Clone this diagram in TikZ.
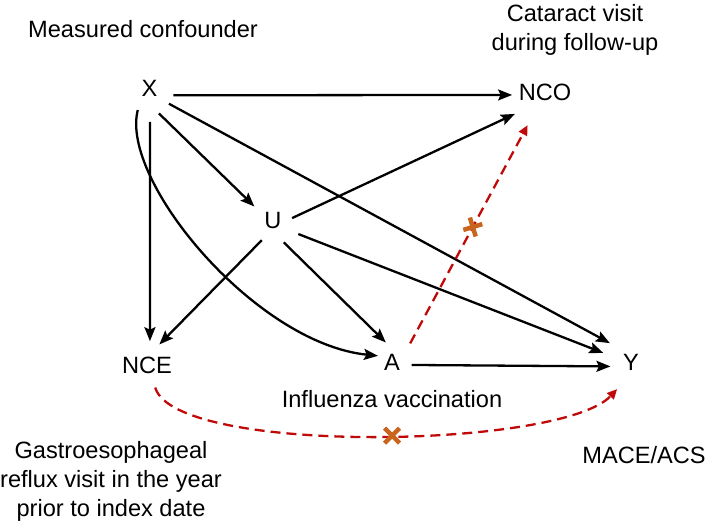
\documentclass[tikz,border=0pt]{standalone}
\usepackage{fontspec}
\setmainfont{Liberation Sans}
\usetikzlibrary{arrows.meta,calc}
\definecolor{dred}{RGB}{192,10,10}
\definecolor{xorange}{RGB}{200,100,30}
\begin{document}
\begin{tikzpicture}[x=1pt,y=-1pt,
  every node/.style={font=\fontsize{23.6pt}{29pt}\selectfont},
  var/.style={circle, inner sep=0pt, outer sep=0pt, minimum size=#1, text height=17pt, text depth=0pt},
  conn/.style={line width=2.3pt, -{Stealth[length=14pt,width=11pt,inset=2.5pt]}},
  nc/.style={line width=2.3pt, dred, dash pattern=on 10pt off 6pt, -{Triangle[length=10pt,width=9pt]}},
  xmark/.style={xorange, line width=4.5pt, solid},
  lbl/.style={inner sep=0pt, align=center}
]
\useasboundingbox (0,0) rectangle (708,521);

% variables
\node[var=50pt] (X) at (149.5,88) {\makebox[0pt]{X}};
\node[var=70pt] (NCO) at (545,92.5) {\makebox[0pt]{NCO}};
\node[var=46pt] (U) at (273,220) {\makebox[0pt]{U}};
\node[var=48pt] (NCE) at (147,365) {\makebox[0pt]{NCE}};
\node[var=40pt] (A) at (392,361.5) {\makebox[0pt]{A}};
\node[var=56pt] (Y) at (631,361.5) {\makebox[0pt]{Y}};

% labels
\node[lbl, anchor=base] (mc) at (143,38) {Measured confounder};
\node[lbl, anchor=north] (cat) at (575,4.5) {Cataract visit\\during follow-up};
\node[lbl, anchor=base] (iv) at (392,407) {Influenza vaccination};
\node[lbl, anchor=north] (gerd) at (111,441.5) {Gastroesophageal\\reflux visit in the year\\prior to index date};
\node[lbl, anchor=base] (mace) at (644,463) {MACE/ACS};

% causal edges
\draw[conn, shorten >=-2pt] (X.-17) -- (NCO.184);
\draw[conn, shorten <=9pt] (X.-89) -- (NCE.83);
\draw[conn, shorten <=2.4pt] (X.-72) -- (U.144);
\draw[conn] (X.-39) -- (Y.139);
\draw[conn, shorten >=-5pt] (X.-118) .. controls +(-18,70) and +(-118,-12) .. (A.162);
\draw[conn, shorten <=-4pt, shorten >=2pt] (U.9) -- (NCO.-144);
\draw[conn, shorten <=6pt, shorten >=1pt] (U.-31) -- (Y.163);
\draw[conn, shorten <=2pt] (U.-66) -- (A.108);
\draw[conn] (U.-119) -- (NCE.59);
\draw[conn, shorten >=-7pt] (A.-10) -- (Y.-170);

% negative control edges
\draw[nc, shorten <=6pt, shorten >=2pt] (A.40) -- coordinate[pos=0.54] (b1) (NCO.-118);
\draw[nc, shorten >=3pt] (NCE.-70) .. controls +(20,68) and +(-58,62) .. coordinate[pos=0.53] (b2) (Y.-115);

% blocked marks
\draw[xmark] ($(b1)+(-9.5,2.9)$) -- ($(b1)+(9.5,-2.9)$)
             ($(b1)+(2.9,9.5)$) -- ($(b1)+(-2.9,-9.5)$);
\draw[xmark] ($(b2)+(-7.5,-7.5)$) -- ($(b2)+(7.5,7.5)$)
             ($(b2)+(-7.5,7.5)$) -- ($(b2)+(7.5,-7.5)$);
\end{tikzpicture}
\end{document}
